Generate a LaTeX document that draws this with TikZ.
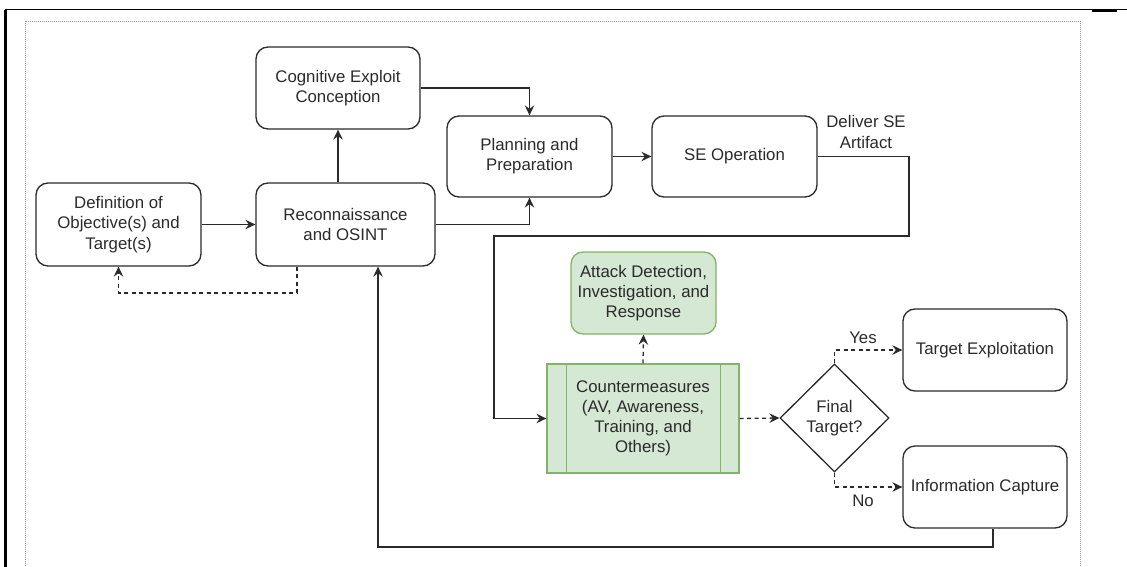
\documentclass[tikz,border=0pt]{standalone}
\usepackage{fontspec}
\setmainfont{Liberation Sans}
\usetikzlibrary{arrows.meta,shapes.geometric,calc}

\definecolor{ln}{HTML}{2A2A2A}
\definecolor{gfill}{HTML}{D5E8D4}
\definecolor{gdraw}{HTML}{82B366}
\definecolor{framegray}{HTML}{999999}

\begin{document}
\begin{tikzpicture}[x=1pt,y=-1pt,
  txt/.style={font=\fontsize{16.8}{20.2}\selectfont, text=ln, align=center, inner sep=0pt},
  box/.style={txt, draw=ln, line width=1.3pt, rounded corners=12pt},
  gbox/.style={box, fill=gfill, draw=gdraw},
  procbox/.style={txt, draw=gdraw, fill=gfill, line width=1.3pt},
  decision/.style={txt, draw=ln, line width=1.3pt, diamond, shape aspect=1},
  arr/.style={draw=ln, line width=1.3pt, -{Stealth[length=10pt,width=9.5pt,inset=3.5pt]}},
  dsh/.style={dash pattern=on 4pt off 3.5pt}
]
\useasboundingbox (0,0) rectangle (1127,567);

% page frame
\draw[line width=1pt] (5,10) -- (1127,10);
\draw[line width=2pt] (1092,11) -- (1117,11);
\draw[line width=3pt] (5.5,10) -- (5.5,567);
\draw[framegray, line width=0.7pt, dash pattern=on 1pt off 1pt] (25,572) -- (25,21) -- (1080,21) -- (1080,572);

% process steps
\node[box, minimum width=165pt, minimum height=83pt] (def) at (118.5,224.5) {Definition of\\Objective(s) and\\Target(s)};
\node[box, minimum width=179pt, minimum height=83pt] (recon) at (345.5,224.5) {Reconnaissance\\and OSINT};
\node[box, minimum width=164pt, minimum height=82pt] (cog) at (338,88) {Cognitive Exploit\\Conception};
\node[box, minimum width=165pt, minimum height=81pt] (plan) at (529.5,156.5) {Planning and\\Preparation};
\node[box, minimum width=165pt, minimum height=81pt] (seop) at (734.5,156.5) {SE Operation};
\node[gbox, minimum width=145pt, minimum height=82pt] (attack) at (643.5,293) {Attack Detection,\\Investigation, and\\Response};
\node[procbox, minimum width=192pt, minimum height=109pt] (counter) at (643,418.5) {Countermeasures\\(AV, Awareness,\\Training, and\\Others)};
\draw[gdraw, line width=1.3pt] ([xshift=20pt]counter.north west) -- ([xshift=20pt]counter.south west);
\draw[gdraw, line width=1.3pt] ([xshift=-19pt]counter.north east) -- ([xshift=-19pt]counter.south east);
\node[decision, minimum width=109pt, minimum height=108pt] (dia) at (834.5,418) {Final\\Target?};
\node[box, minimum width=164pt, minimum height=82pt] (texp) at (985,350) {Target Exploitation};
\node[box, minimum width=164pt, minimum height=82pt] (icap) at (985,487) {Information Capture};

% edge labels
\node[txt] (deliver) at (866,132) {Deliver SE\\Artifact};
\node[txt] (yes) at (863,338) {Yes};
\node[txt] (no) at (863,501) {No};

% bend points
\coordinate (sebend) at (909,236);
\coordinate (cmbend) at (494,236);
\coordinate (loopbend) at (378,547);
\coordinate (backbend) at (297,293);

% connectors
\draw[arr] (def.east) -- (recon.west);
\draw[arr] (recon.north -| cog.south) -- (cog.south);
\draw[arr] (cog.east) -| (plan.north);
\draw[arr] (recon.east) -| (plan.south);
\draw[arr] (plan.east) -- (seop.west);
\draw[arr] (seop.east) -| (sebend) -- (cmbend) |- (counter.west);
\draw[arr, dsh] (counter.north) -- (attack.south);
\draw[arr, dsh] (counter.east) -- (dia.west);
\draw[arr, dsh] (dia.north) |- (texp.west);
\draw[arr, dsh] (dia.south) |- (icap.west);
\draw[arr] ([xshift=8pt]icap.south) |- (loopbend) -- (loopbend |- recon.south);
\draw[arr, dsh] (backbend |- recon.south) -- (backbend) -| (def.south);
\end{tikzpicture}
\end{document}
